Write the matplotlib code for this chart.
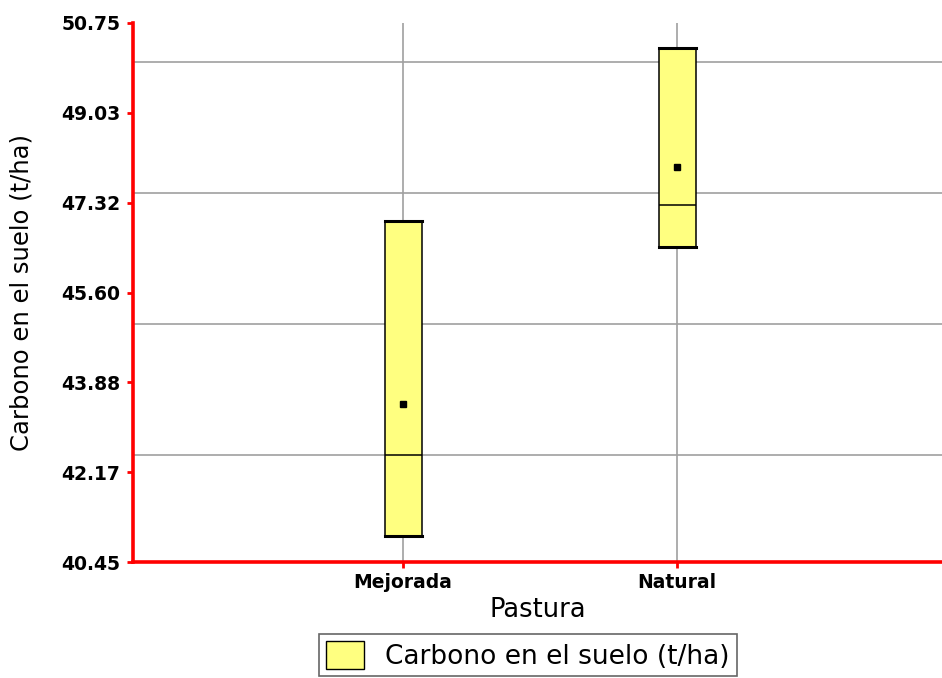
import numpy as np
import matplotlib.pyplot as plt

# datos
pasturas = ['Mejorada', 'Natural']
minimos = [40.95, 46.47]
maximos = [46.97, 50.27]
medianas = [42.50, 47.27]
medias = [43.47, 48.00]

y_ticks = np.linspace(40.45, 50.75, 7)
y_grid = [42.5, 45.0, 47.5, 50.0]
etiqueta = 'Carbono en el suelo (t/ha)'

fig = plt.figure(figsize=(9.42, 6.78), dpi=100)
ax = fig.add_axes([133 / 942, 1 - 562.3 / 678, 1 - 133 / 942, (562.3 - 22.7) / 678])

# cada caja va del minimo al maximo, con la mediana y la media
stats = []
for i in range(len(pasturas)):
    stats.append({'med': medianas[i], 'q1': minimos[i], 'q3': maximos[i],
                  'whislo': minimos[i], 'whishi': maximos[i],
                  'mean': medias[i], 'fliers': [], 'label': pasturas[i]})

pos = np.arange(1, len(pasturas) + 1)
bp = ax.bxp(stats, positions=pos, widths=0.135, capwidths=0.135,
            showmeans=True, patch_artist=True, zorder=3,
            boxprops=dict(facecolor='#ffff80', edgecolor='black', linewidth=1.1),
            medianprops=dict(color='black', linewidth=1.1),
            whiskerprops=dict(linewidth=0),
            capprops=dict(color='black', linewidth=2.2),
            meanprops=dict(marker='s', markerfacecolor='black',
                           markeredgecolor='black', markersize=4.5))

ax.set_xlim(0.0146, 2.967)
ax.set_ylim(40.45, 50.75)
ax.set_yticks(y_ticks)
ax.set_yticklabels(['%.2f' % v for v in y_ticks])
ax.set_yticks(y_grid, minor=True)
ax.set_xticks(pos)
ax.set_xticklabels(pasturas)

ax.grid(True, axis='x', which='major', color='#a0a0a0', linewidth=1.2, zorder=0)
ax.grid(True, axis='y', which='minor', color='#a0a0a0', linewidth=1.2, zorder=0)
ax.grid(False, axis='y', which='major')
ax.set_axisbelow(True)

for s in ['top', 'right']:
    ax.spines[s].set_visible(False)
for s in ['left', 'bottom']:
    ax.spines[s].set_color('red')
    ax.spines[s].set_linewidth(2.6)
    ax.spines[s].set_zorder(4)

ax.tick_params(axis='both', which='major', colors='red', width=2, length=4,
               labelcolor='black', labelsize=13.5)
ax.tick_params(axis='y', which='major', pad=5)
ax.tick_params(axis='x', which='major', pad=4)
ax.tick_params(axis='y', which='minor', length=0)
for t in ax.get_xticklabels() + ax.get_yticklabels():
    t.set_fontweight('bold')

ax.set_xlabel('Pastura', fontsize=18.5, labelpad=3)
ax.set_ylabel(etiqueta, fontsize=17.5, labelpad=20)

h = plt.Rectangle((0, 0), 1, 1, facecolor='#ffff80', edgecolor='black', linewidth=1)
leg = fig.legend([h], [etiqueta], loc='upper center',
                 bbox_to_anchor=(528 / 942, 1 - 634 / 678), fontsize=19,
                 frameon=True, fancybox=False, handlelength=1.45,
                 handleheight=1.3, borderpad=0.25, handletextpad=0.8,
                 borderaxespad=0)
leg.get_frame().set_edgecolor('#404040')
leg.get_frame().set_linewidth(1.2)

fig.savefig('out.png', dpi=100)
